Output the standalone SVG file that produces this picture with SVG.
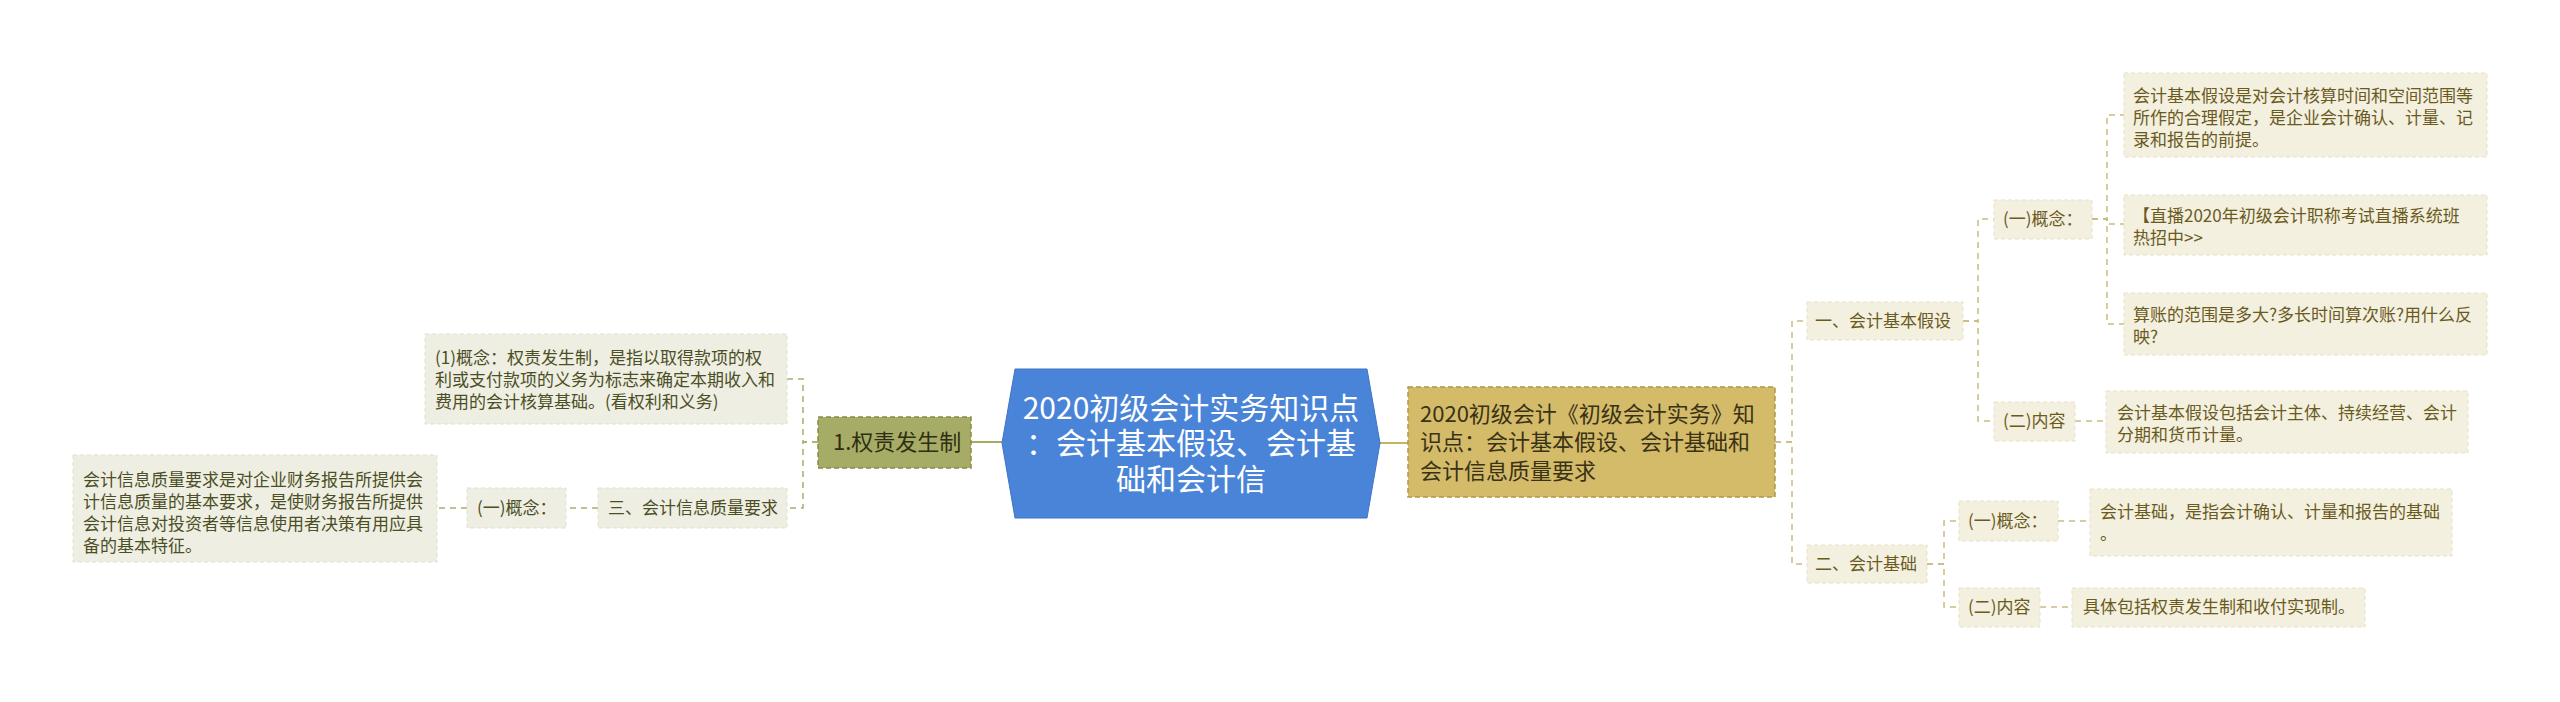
<svg xmlns="http://www.w3.org/2000/svg" width="2560" height="702" viewBox="0 0 2560 702">
<style>
text{font-family:"Noto Sans CJK SC","Noto Sans",sans-serif;}
.root{fill:#4a84d8;stroke:#3d74c4;stroke-width:1;}
.roott{fill:#ffffff;font-size:30px;}
.gold{fill:#d4bb6a;stroke:#b09848;stroke-width:1.5;stroke-dasharray:5 3;}
.goldt{fill:#3a3214;font-size:22px;}
.olive{fill:#a6ac66;stroke:#868d48;stroke-width:1.5;stroke-dasharray:5 3;}
.olivet{fill:#2e2f12;font-size:22px;}
.rn{fill:#f3f0df;stroke:#e7e1c6;stroke-width:1;stroke-dasharray:4 3;}
.rt{fill:#6b5a1e;font-size:17px;}
.ln{fill:#eeeee2;stroke:#e0e1cd;stroke-width:1;stroke-dasharray:4 3;}
.lt{fill:#4c4f26;font-size:17px;}
.cr{fill:none;stroke:#cbbb7c;stroke-width:1.5;stroke-dasharray:6 5;}
.cl{fill:none;stroke:#a9af6e;stroke-width:1.5;stroke-dasharray:6 5;}
</style>
<rect width="2560" height="702" fill="#ffffff"/>
<g id="connectors">
  <line x1="1380" y1="443" x2="1408" y2="443" stroke="#c9b362" stroke-width="2"/>
  <line x1="971" y1="442" x2="1002" y2="442" stroke="#a5ab62" stroke-width="2"/>
  <path class="cr" d="M1775,442 H1792 V321 H1807"/>
  <path class="cr" d="M1775,442 H1792 V564 H1807"/>
  <path class="cr" d="M1963,321 H1978 V219 H1994"/>
  <path class="cr" d="M1963,321 H1978 V421 H1994"/>
  <path class="cr" d="M2092,219 H2107 V115 H2124"/>
  <path class="cr" d="M2092,219 H2107 V224 H2124"/>
  <path class="cr" d="M2092,219 H2107 V324 H2124"/>
  <path class="cr" d="M2075,421 H2106"/>
  <path class="cr" d="M1927,564 H1944 V521 H1959"/>
  <path class="cr" d="M1927,564 H1944 V607 H1959"/>
  <path class="cr" d="M2058,521 H2090"/>
  <path class="cr" d="M2040,607 H2072"/>
  <path class="cl" d="M818,442 H803 V379 H787"/>
  <path class="cl" d="M818,442 H803 V508 H787"/>
  <path class="cl" d="M598,508 H566"/>
  <path class="cl" d="M467,508 H437"/>
</g>
<g id="root">
  <polygon class="root" points="1002,443 1015,369 1367,369 1380,443 1367,518 1015,518"/>
  <text class="roott" x="1191" y="419" text-anchor="middle">2020初级会计实务知识点</text>
  <text class="roott" x="1191" y="454" text-anchor="middle">：会计基本假设、会计基</text>
  <text class="roott" x="1191" y="490" text-anchor="middle">础和会计信</text>
</g>
<g id="main-right">
  <rect class="gold" x="1408" y="387" width="367" height="110"/>
  <text class="goldt" x="1420" y="422">2020初级会计《初级会计实务》知</text>
  <text class="goldt" x="1420" y="450">识点：会计基本假设、会计基础和</text>
  <text class="goldt" x="1420" y="479">会计信息质量要求</text>
</g>
<g id="main-left">
  <rect class="olive" x="818" y="417" width="153" height="51"/>
  <text class="olivet" x="833" y="450">1.权责发生制</text>
</g>
<g id="n-jiashe">
  <rect class="rn" x="1807" y="302" width="156" height="38"/>
  <text class="rt" x="1815" y="327">一、会计基本假设</text>
</g>
<g id="n-jichu">
  <rect class="rn" x="1807" y="545" width="120" height="38"/>
  <text class="rt" x="1815" y="570">二、会计基础</text>
</g>
<g id="n-jiashe-gainian">
  <rect class="rn" x="1994" y="200" width="98" height="39"/>
  <text class="rt" x="2003" y="225">(一)概念：</text>
</g>
<g id="n-jiashe-neirong">
  <rect class="rn" x="1994" y="402" width="81" height="39"/>
  <text class="rt" x="2003" y="427">(二)内容</text>
</g>
<g id="leaf-1">
  <rect class="rn" x="2124" y="73" width="363" height="84"/>
  <text class="rt" x="2133" y="102">会计基本假设是对会计核算时间和空间范围等</text>
  <text class="rt" x="2133" y="124">所作的合理假定，是企业会计确认、计量、记</text>
  <text class="rt" x="2133" y="146">录和报告的前提。</text>
</g>
<g id="leaf-2">
  <rect class="rn" x="2124" y="195" width="363" height="60"/>
  <text class="rt" x="2133" y="222">【直播2020年初级会计职称考试直播系统班</text>
  <text class="rt" x="2133" y="244">热招中&gt;&gt;</text>
</g>
<g id="leaf-3">
  <rect class="rn" x="2124" y="293" width="363" height="62"/>
  <text class="rt" x="2133" y="321">算账的范围是多大?多长时间算次账?用什么反</text>
  <text class="rt" x="2133" y="343">映?</text>
</g>
<g id="leaf-4">
  <rect class="rn" x="2106" y="391" width="362" height="62"/>
  <text class="rt" x="2117" y="419">会计基本假设包括会计主体、持续经营、会计</text>
  <text class="rt" x="2117" y="441">分期和货币计量。</text>
</g>
<g id="n-jichu-gainian">
  <rect class="rn" x="1959" y="501" width="99" height="40"/>
  <text class="rt" x="1968" y="527">(一)概念：</text>
</g>
<g id="n-jichu-neirong">
  <rect class="rn" x="1959" y="588" width="81" height="39"/>
  <text class="rt" x="1968" y="613">(二)内容</text>
</g>
<g id="leaf-5">
  <rect class="rn" x="2090" y="489" width="362" height="67"/>
  <text class="rt" x="2100" y="518">会计基础，是指会计确认、计量和报告的基础</text>
  <text class="rt" x="2100" y="540">。</text>
</g>
<g id="leaf-6">
  <rect class="rn" x="2072" y="588" width="293" height="39"/>
  <text class="rt" x="2083" y="613">具体包括权责发生制和收付实现制。</text>
</g>
<g id="leaf-left-1">
  <rect class="ln" x="425" y="334" width="362" height="90"/>
  <text class="lt" x="435" y="364">(1)概念：权责发生制，是指以取得款项的权</text>
  <text class="lt" x="435" y="386">利或支付款项的义务为标志来确定本期收入和</text>
  <text class="lt" x="435" y="408">费用的会计核算基础。(看权利和义务)</text>
</g>
<g id="n-zhiliang">
  <rect class="ln" x="598" y="488" width="189" height="40"/>
  <text class="lt" x="608" y="514">三、会计信息质量要求</text>
</g>
<g id="n-zhiliang-gainian">
  <rect class="ln" x="467" y="488" width="99" height="40"/>
  <text class="lt" x="477" y="514">(一)概念：</text>
</g>
<g id="leaf-left-2">
  <rect class="ln" x="73" y="455" width="364" height="107"/>
  <text class="lt" x="83" y="486">会计信息质量要求是对企业财务报告所提供会</text>
  <text class="lt" x="83" y="508">计信息质量的基本要求，是使财务报告所提供</text>
  <text class="lt" x="83" y="530">会计信息对投资者等信息使用者决策有用应具</text>
  <text class="lt" x="83" y="552">备的基本特征。</text>
</g>
</svg>
